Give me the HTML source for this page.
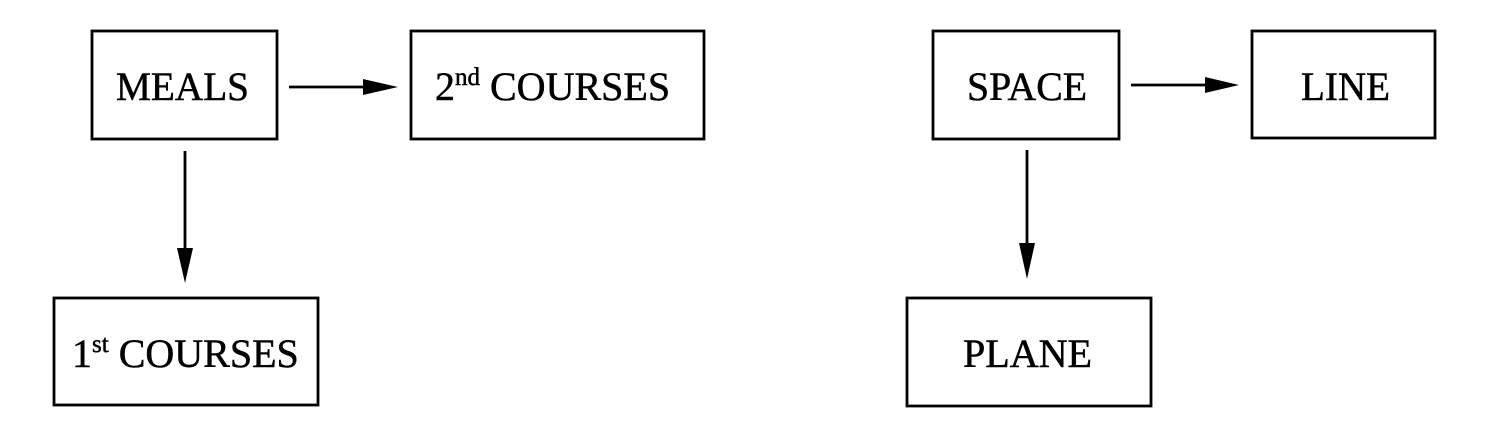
<!DOCTYPE html>
<html><head><meta charset="utf-8"><style>
html,body{margin:0;padding:0;background:#fff;width:1487px;height:425px;overflow:hidden}
svg{display:block}
text{font-family:"Liberation Serif",serif;font-size:40px;fill:#000;stroke:#000;stroke-width:0.5}
</style></head><body>
<svg width="1487" height="425" viewBox="0 0 1487 425">
<g fill="none" stroke="#000" stroke-width="2.8">
<rect x="92" y="31" width="185" height="108"/>
<rect x="411" y="31" width="293" height="108"/>
<rect x="54" y="298" width="264" height="107"/>
<rect x="933" y="31" width="186" height="108"/>
<rect x="1252" y="31" width="183" height="107"/>
<rect x="907" y="298" width="244" height="108"/>
<line x1="289" y1="87" x2="370" y2="87"/>
<line x1="185" y1="151" x2="185" y2="252"/>
<line x1="1131" y1="85" x2="1210" y2="85"/>
<line x1="1027" y1="150" x2="1027" y2="248"/>
</g>
<g fill="#000">
<polygon points="363,79 398,87 363,95"/>
<polygon points="177,248 193,248 185,283"/>
<polygon points="1205,77 1239,85 1205,93"/>
<polygon points="1019,243 1035,243 1027,279"/>
</g>
<text x="116" y="100" textLength="133" lengthAdjust="spacingAndGlyphs">MEALS</text>
<text x="435" y="100">2<tspan font-size="25" dy="-15">nd</tspan><tspan dy="15"> COURSES</tspan></text>
<text x="72" y="367">1<tspan font-size="25" dy="-15">st</tspan><tspan dy="15"> COURSES</tspan></text>
<text x="967" y="100" textLength="120" lengthAdjust="spacingAndGlyphs">SPACE</text>
<text x="1301" y="100" textLength="89" lengthAdjust="spacingAndGlyphs">LINE</text>
<text x="963" y="367" textLength="129" lengthAdjust="spacingAndGlyphs">PLANE</text>
</svg>
</body></html>
